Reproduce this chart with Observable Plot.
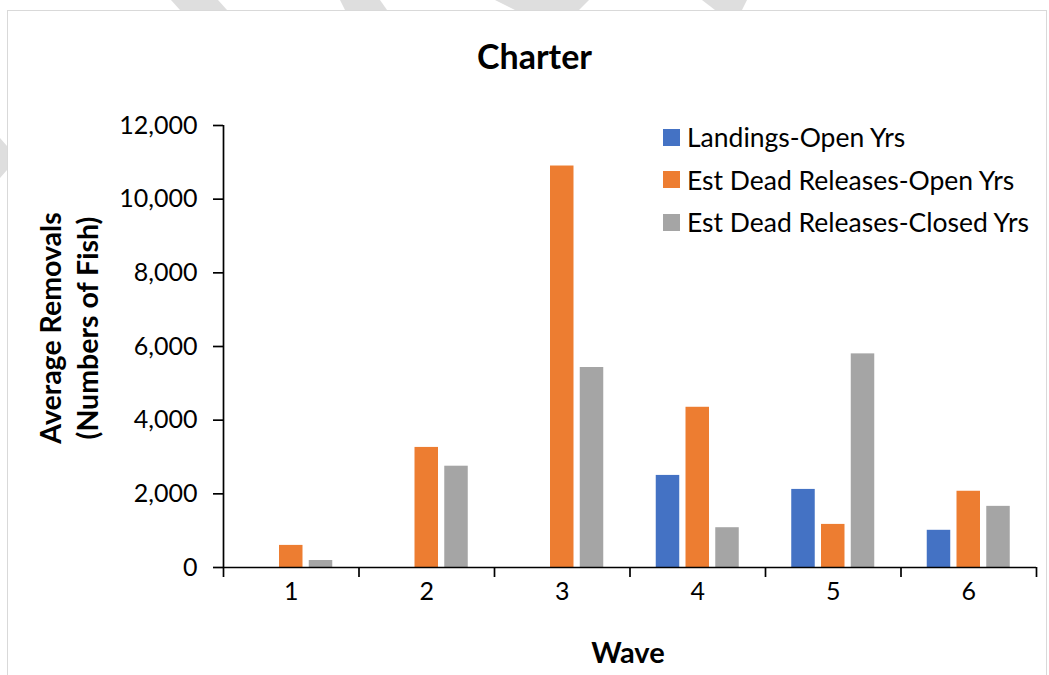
<!DOCTYPE html>
<html>
<head>
<meta charset="utf-8">
<script src="https://cdn.jsdelivr.net/npm/d3@7"></script>
<script src="https://cdn.jsdelivr.net/npm/@observablehq/plot@0.6"></script>
<style>
  html, body { margin: 0; padding: 0; background: #fff; }
  #wrap { position: relative; width: 1049px; height: 675px; overflow: hidden; font-family: Lato, "Open Sans", sans-serif; color: #000; }
  #deco { position: absolute; left: 0; top: 0; }
  #border { position: absolute; left: 7px; top: 10px; width: 1040px; height: 700px; border: 1.5px solid #d9d9d9; box-sizing: border-box; }
  #chart { position: absolute; left: 0; top: 0; }
  .title { position: absolute; left: 534.5px; top: 55px; transform: translate(-50%, -50%); font-weight: bold; font-size: 34px; white-space: nowrap; }
  .ylab { position: absolute; left: 69px; top: 328px; transform: translate(-50%, -50%) rotate(-90deg); font-weight: bold; font-size: 28.5px; line-height: 37px; text-align: center; white-space: nowrap; }
  .xlab { position: absolute; left: 628px; top: 651px; transform: translate(-50%, -50%); font-weight: bold; font-size: 29px; white-space: nowrap; }
  #legend { position: absolute; left: 663px; top: 116px; }
  .li { display: flex; align-items: center; height: 42.5px; font-size: 26.5px; white-space: nowrap; }
  .sw { width: 17px; height: 17px; margin-right: 7px; flex: none; }
</style>
</head>
<body>
<div id="wrap">
  <svg id="deco" width="1049" height="675">
    <g fill="#dedede">
      <polygon points="171,0 218,0 227,10 180,10"/>
      <polygon points="340,0 380,0 387,10 345,10"/>
      <polygon points="495,0 589,0 579,10 515,10"/>
      <polygon points="702,0 747,0 742,10 715,10"/>
      <polygon points="0,138 7,146 7,170 0,178"/>
    </g>
  </svg>
  <div id="border"></div>
  <div id="chart"></div>
  <div class="title">Charter</div>
  <div class="ylab">Average Removals<br>(Numbers of Fish)</div>
  <div class="xlab">Wave</div>
  <div id="legend"></div>
</div>
<script>
// ---- data ----
const waves = [1, 2, 3, 4, 5, 6];
const seriesNames = ["Landings-Open Yrs", "Est Dead Releases-Open Yrs", "Est Dead Releases-Closed Yrs"];
const seriesColors = ["#4472C4", "#ED7D31", "#A5A5A5"];
const landingsOpen = [0, 0, 0, 2500, 2120, 1010];
const deadReleasesOpen = [600, 3260, 10900, 4350, 1170, 2070];
const deadReleasesClosed = [190, 2750, 5430, 1080, 5800, 1660];
const yTicks = [0, 2000, 4000, 6000, 8000, 10000, 12000];

// ---- table ----
const seriesValues = [landingsOpen, deadReleasesOpen, deadReleasesClosed];
const rows = [];
waves.forEach((w, i) => {
  seriesNames.forEach((s, k) => {
    const v = seriesValues[k][i];
    if (v > 0) rows.push({wave: w, series: s, k, value: v});
  });
});
const boundaries = [0.5, ...waves.map(w => w + 0.5)];
const step = 0.2196;   // center-to-center spacing of bars within a wave (in wave units)
const bw = 0.1734;     // bar width (in wave units)

const chart = Plot.plot({
  width: 1049,
  height: 675,
  marginLeft: 223,
  marginRight: 13,
  marginTop: 125,
  marginBottom: 108,
  style: {fontFamily: "Lato, 'Open Sans', sans-serif", fontSize: "25px", color: "#000", background: "transparent"},
  x: {domain: [0.5, 6.5], axis: null},
  y: {domain: [0, 12000], axis: null},
  color: {domain: seriesNames, range: seriesColors},
  marks: [
    Plot.rectY(rows, {
      x1: d => d.wave + (d.k - 1) * step - bw / 2,
      x2: d => d.wave + (d.k - 1) * step + bw / 2,
      y1: 0,
      y2: "value",
      fill: "series"
    }),
    Plot.axisY({ticks: yTicks, tickSize: 10, tickPadding: 16, tickFormat: d3.format(","), label: null, strokeWidth: 1.7, stroke: "#000"}),
    Plot.axisX({ticks: waves, tickSize: 0, tickPadding: 15, tickFormat: d => String(d), label: null}),
    Plot.axisX({ticks: boundaries, tickSize: 10, tickFormat: () => "", label: null, strokeWidth: 1.7, stroke: "#000"}),
    Plot.ruleY([0], {stroke: "#000", strokeWidth: 1.7}),
    Plot.ruleX([0.5], {y1: 0, y2: 12000, stroke: "#000", strokeWidth: 1.7})
  ]
});
document.getElementById("chart").appendChild(chart);

// legend
const legend = document.getElementById("legend");
seriesNames.forEach((s, k) => {
  const item = document.createElement("div");
  item.className = "li";
  const sw = document.createElement("span");
  sw.className = "sw";
  sw.style.background = chart.scale("color").apply(s);
  item.appendChild(sw);
  item.appendChild(document.createTextNode(s));
  legend.appendChild(item);
});
</script>
</body>
</html>
